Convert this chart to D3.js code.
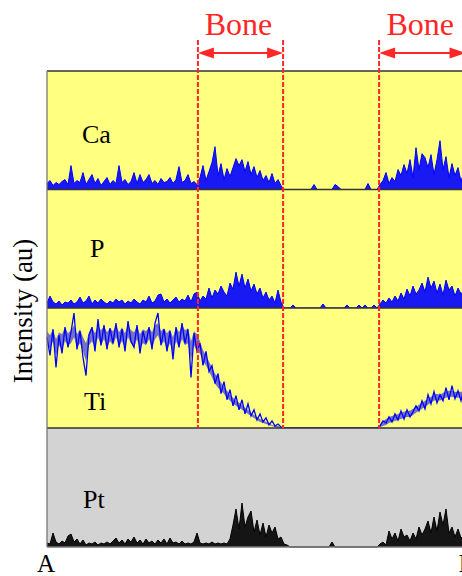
<!DOCTYPE html>
<html><head><meta charset="utf-8">
<script src="https://cdn.jsdelivr.net/npm/d3@7"></script>
<style>html,body{margin:0;padding:0;background:#fff;overflow:hidden}
text{font-family:"Liberation Serif","DejaVu Serif",serif}</style>
</head><body>
<script>
// ---- data (heights in arbitrary units, one sample per position step) ----
const elements = ["Ca", "P", "Ti", "Pt"];
const boneEdges = [50.3, 78.7, 110.7, 139.5];
const boneLabel = "Bone";
const endLabels = ["A", "B"];
const yLabel = "Intensity (au)";

const ca = [6,9,4,7,5,8,10,5,24,6,9,7,17,5,10,15,6,11,4,8,12,5,9,6,24,7,10,5,8,17,6,15,7,10,15,6,9,5,11,7,8,12,6,10,23,7,9,15,6,8,5,
  12,24,9,18,27,43,14,26,10,21,13,22,31,24,30,18,28,15,23,12,19,9,14,7,16,6,10,4,
  0,0,0,0,0,0,0,0, 0,0,5,0,0,0,0,0, 0,5,3,0,0,0,0,0, 0,0,0,0,6,0,0,0,
  5,9,17,6,12,8,20,14,25,16,30,12,42,20,36,32,22,35,15,30,49,20,33,12,26,14,22,8,18,12,15];
const p = [5,12,6,4,7,3,6,5,8,4,6,11,5,7,12,4,8,5,9,6,4,7,5,9,6,8,4,7,5,9,6,4,8,6,12,5,7,13,14,6,9,5,8,11,6,9,7,13,6,14,16,
  7,12,9,20,10,18,14,22,16,12,25,19,36,22,34,20,29,17,24,14,20,10,16,8,12,5,18,6,
  0,0,0,3,0,0,0,0, 0,0,0,0,0,4,0,0, 0,0,0,0,0,3,0,0, 0,3,0,3,0,0,3,0,
  4,8,5,10,6,12,7,15,9,19,12,22,14,18,25,16,31,20,27,15,24,13,28,18,22,12,20,14,18,10,16];
// Ti: spiky trace plus the dense core band (upper / lower edge)
const ti = [90,72,98,60,92,74,100,80,95,114,78,96,70,52,92,100,76,108,82,102,78,99,84,104,80,98,76,106,86,80,102,74,96,84,100,78,104,114,82,98,76,96,68,100,80,104,84,98,50,94,76,
  84,62,76,56,62,44,54,34,46,28,38,22,32,18,28,14,24,12,18,8,14,6,10,3,7,2,4,1,
  0,0,0,0,0,0,0,0, 0,0,0,0,0,0,0,0, 0,0,0,0,0,0,0,0, 0,0,0,0,0,0,0,0,
  2,7,5,11,6,14,8,17,9,18,11,16,22,17,27,19,33,24,36,25,33,27,40,28,42,29,37,27,39,31,36];
const tiHi = [96,92,98,88,95,93,100,94,97,102,93,98,90,84,95,100,94,102,97,101,95,99,96,102,95,100,94,103,97,95,101,93,98,96,100,95,102,104,96,99,94,98,90,100,95,102,97,99,86,96,93,
  86,77,72,66,60,54,50,45,41,37,33,30,27,25,23,20,18,15,13,11,9,8,6,5,3,2,2,1,
  0,0,0,0,0,0,0,0, 0,0,0,0,0,0,0,0, 0,0,0,0,0,0,0,0, 0,0,0,0,0,0,0,0,
  4,7,9,11,12,13,14,15,16,17,17,19,21,23,25,27,29,31,33,34,33,35,36,37,37,36,36,36,36,35,36];
const tiLo = [84,78,86,72,82,78,86,82,84,90,80,84,76,66,82,86,80,90,82,88,80,86,82,90,82,86,80,90,84,80,88,78,84,82,88,80,88,92,82,86,78,84,74,86,80,88,82,84,68,82,76,
  74,66,62,56,50,44,40,37,34,30,27,24,22,20,18,16,14,12,10,8,6,5,4,3,2,1,0,0,
  0,0,0,0,0,0,0,0, 0,0,0,0,0,0,0,0, 0,0,0,0,0,0,0,0, 0,0,0,0,0,0,0,0,
  1,2,3,5,6,7,8,9,10,11,11,13,15,17,19,21,23,25,27,28,27,29,30,31,31,30,30,30,30,29,30];
const pt = [4,3,14,5,3,6,4,11,13,5,8,3,7,2,4,3,5,2,4,3,5,3,6,9,4,7,3,8,5,10,4,7,3,8,4,6,3,7,4,8,3,9,4,5,3,6,3,4,3,5,14,
  4,3,4,3,5,3,4,3,4,3,8,22,38,18,44,20,30,36,15,27,12,24,10,22,14,20,8,10,
  3,2,0,0,0,0,0,0, 0,0,0,0,0,0,0,0, 5,0,0,0,0,0,0,0, 0,0,0,0,0,0,0,0,
  3,5,2,16,8,14,6,18,10,12,6,14,8,20,12,18,26,14,30,16,35,22,38,14,20,10,18,9,12,8,10];

const W = 462, H = 576;
const plotLeft = 47, plotRight = 470, plotTop = 71;
const panelBounds = [71, 189.5, 308, 428, 547];
const N = ca.length;

const svg = d3.select("body").append("svg").attr("width", W).attr("height", H);

const x = d3.scaleLinear().domain([0, N - 1]).range([plotLeft, plotRight]);

const series = [ca, p, ti, pt];
const bgs = ["#ffff80", "#ffff80", "#ffff80", "#d3d3d3"];
const cols = ["#0000ff", "#0000ff", "#0000ff", "#000000"];
const labelPos = [[82, 143], [90, 257], [84, 410], [83, 508]];

series.forEach((data, k) => {
  const y0 = panelBounds[k + 1], y1 = panelBounds[k];
  const y = d3.scaleLinear().domain([0, 119]).range([y0, y1]);
  svg.append("rect").attr("x", plotLeft).attr("y", y1).attr("width", plotRight - plotLeft).attr("height", y0 - y1)
    .attr("fill", bgs[k]);
  const g = svg.append("g");
  if (k !== 2) {
    const area = d3.area().x((d, i) => x(i)).y0(y(0)).y1(d => y(d));
    g.append("path").datum(data).attr("d", area).attr("fill", cols[k]).attr("fill-opacity", 0.9);
  } else {
    const band = d3.area().x((d, i) => x(i)).y0((d, i) => y(tiLo[i])).y1((d, i) => y(tiHi[i]));
    g.append("path").datum(tiHi).attr("d", band).attr("fill", cols[k]).attr("fill-opacity", 0.55);
  }
  const line = d3.line().x((d, i) => x(i)).y(d => y(d));
  g.append("path").datum(data).attr("d", line).attr("fill", "none")
    .attr("stroke", cols[k]).attr("stroke-width", k === 2 ? 1.3 : 1);
  svg.append("text").attr("x", labelPos[k][0]).attr("y", labelPos[k][1])
    .attr("font-size", 26).attr("fill", "#000").text(elements[k]);
});

// separators & frame
panelBounds.forEach((b, i) => {
  svg.append("line").attr("x1", plotLeft).attr("x2", plotRight).attr("y1", b).attr("y2", b)
    .attr("stroke", i === panelBounds.length - 1 ? "#777" : "#333").attr("stroke-width", 1.3);
});
svg.append("line").attr("x1", plotLeft).attr("x2", plotLeft).attr("y1", plotTop).attr("y2", panelBounds[4])
  .attr("stroke", "#777").attr("stroke-width", 1.3);
svg.append("line").attr("x1", plotRight).attr("x2", plotRight).attr("y1", plotTop).attr("y2", panelBounds[4])
  .attr("stroke", "#333").attr("stroke-width", 1.3);

// bone markers
const red = "#ff2626";
boneEdges.forEach(b => {
  svg.append("line").attr("x1", x(b)).attr("x2", x(b)).attr("y1", 40).attr("y2", 428)
    .attr("stroke", red).attr("stroke-width", 2).attr("stroke-dasharray", "5,2");
});
for (let j = 0; j < boneEdges.length; j += 2) {
  const xa = x(boneEdges[j]), xb = x(boneEdges[j + 1]), ay = 53;
  svg.append("line").attr("x1", xa + 8).attr("x2", xb - 8).attr("y1", ay).attr("y2", ay)
    .attr("stroke", red).attr("stroke-width", 2);
  svg.append("path").attr("d", `M${xa},${ay}L${xa + 16},${ay - 5.5}L${xa + 16},${ay + 5.5}Z`).attr("fill", red);
  svg.append("path").attr("d", `M${xb},${ay}L${xb - 16},${ay - 5.5}L${xb - 16},${ay + 5.5}Z`).attr("fill", red);
  svg.append("text").attr("x", (xa + xb) / 2 - 2).attr("y", 35).attr("text-anchor", "middle")
    .attr("font-size", 32).attr("fill", red).text(boneLabel);
}

// end labels
svg.append("text").attr("x", x(0) - 1).attr("y", 572).attr("text-anchor", "middle")
  .attr("font-size", 25).text(endLabels[0]);
svg.append("text").attr("x", 467).attr("y", 572).attr("text-anchor", "middle")
  .attr("font-size", 25).text(endLabels[1]);

// y label
svg.append("text").attr("transform", "translate(32,311) rotate(-90)").attr("text-anchor", "middle")
  .attr("font-size", 27).text(yLabel);
</script>
</body></html>
